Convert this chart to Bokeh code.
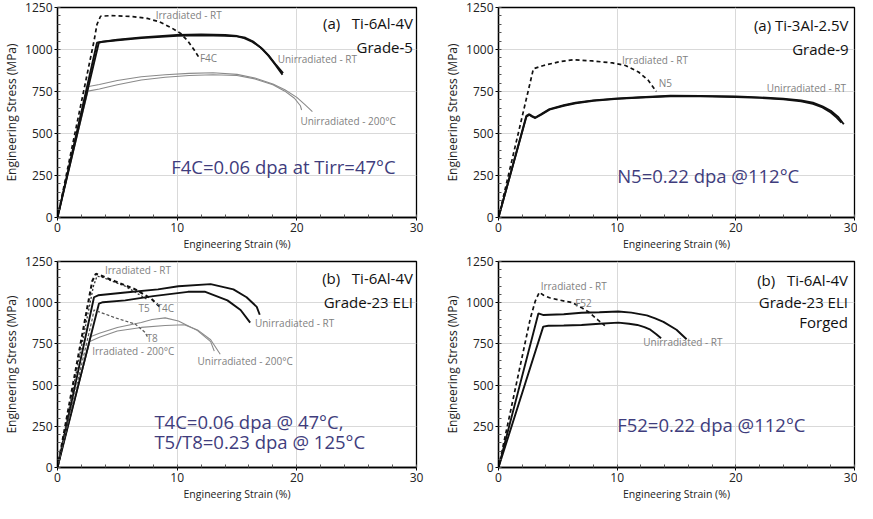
from bokeh.plotting import figure
from bokeh.layouts import column, row
from bokeh.models import Range1d, FixedTicker
from bokeh.core.properties import value
from bokeh.embed import file_html
from bokeh.resources import INLINE

# ---------------- data ----------------
X_TICKS = [0, 10, 20, 30]
Y_TICKS = [0, 250, 500, 750, 1000, 1250]
X_LABEL = "Engineering Strain (%)"
Y_LABEL = "Engineering Stress (MPa)"

# Panel 1: Ti-6Al-4V Grade-5
p1_unirr_rt_a_x = [0, 3.3, 3.6, 5, 7, 10, 12, 14, 15, 15.6, 16.3, 17.0, 17.6, 18.2, 18.8]
p1_unirr_rt_a_y = [0, 1040, 1045, 1055, 1068, 1082, 1085, 1082, 1078, 1068, 1045, 1010, 965, 910, 850]
p1_unirr_rt_b_x = [0, 3.45, 3.8, 5, 7, 10, 12, 14, 15, 15.7, 16.4, 17.1, 17.7, 18.3, 18.85]
p1_unirr_rt_b_y = [0, 1040, 1047, 1058, 1072, 1086, 1090, 1086, 1080, 1070, 1045, 1005, 960, 905, 860]
p1_irr_rt_x = [0, 3.05, 3.3, 3.6, 4.5, 6.3, 7.5, 8.5, 9.5, 10.3, 10.9, 11.4, 11.8]
p1_irr_rt_y = [0, 1050, 1150, 1198, 1202, 1196, 1185, 1165, 1130, 1095, 1050, 1000, 955]
p1_unirr_200_a_x = [0, 2.6, 3.5, 5, 7, 9, 11, 13, 15, 16.5, 18, 19, 20, 20.7, 21.3]
p1_unirr_200_a_y = [0, 780, 792, 815, 838, 850, 858, 862, 852, 830, 795, 760, 715, 670, 630]
p1_unirr_200_b_x = [0, 2.55, 3.5, 5, 7, 9, 11, 13, 15, 16.5, 18, 19, 19.8, 20.3, 20.4]
p1_unirr_200_b_y = [0, 752, 765, 790, 818, 835, 845, 850, 845, 825, 790, 752, 710, 665, 640]

# Panel 2: Ti-3Al-2.5V Grade-9
p2_unirr_rt_a_x = [0, 2.35, 2.6, 2.8, 3.1, 3.6, 4.3, 5.5, 6.5, 8, 10, 12, 14.5, 17, 20, 22, 24, 25.5, 26.5, 27.3, 28, 28.6, 29.1]
p2_unirr_rt_a_y = [0, 605, 615, 605, 595, 615, 645, 668, 683, 697, 708, 716, 725, 724, 720, 715, 707, 697, 683, 662, 635, 600, 555]
p2_unirr_rt_b_x = [0, 2.35, 2.6, 2.8, 3.1, 3.6, 4.3, 5.5, 6.5, 8, 10, 12, 14.5, 17, 20, 22, 24, 25.5, 26.5, 27.3, 28, 28.5, 28.9]
p2_unirr_rt_b_y = [0, 600, 612, 602, 592, 612, 642, 665, 680, 695, 706, 714, 722, 721, 717, 712, 703, 692, 676, 655, 625, 595, 565]
p2_irr_rt_x = [0, 2.94, 3.8, 5.2, 6.3, 7.9, 9.6, 10.7, 11.8, 12.6, 13.3]
p2_irr_rt_y = [0, 885, 905, 928, 939, 932, 920, 905, 866, 818, 750]

# Panel 3: Ti-6Al-4V Grade-23 ELI
p3_t4c_x = [0, 2.9, 3.2, 3.5, 4.84, 6.5, 7.86, 8.7]
p3_t4c_y = [0, 1130, 1175, 1168, 1129, 1081, 1023, 965]
p3_t5_x = [0, 3.0, 3.3, 3.6, 4.6, 5.66, 6.76, 7.44]
p3_t5_y = [0, 1100, 1160, 1158, 1130, 1100, 1052, 1023]
p3_t8_x = [0, 2.9, 3.05, 4.84, 6.5, 7.3, 7.6]
p3_t8_y = [0, 900, 956, 908, 870, 821, 783]
p3_unirr_rt_a_x = [0, 3.05, 3.4, 5.66, 8.4, 10.1, 12.8, 14.7, 15.8, 16.65, 16.9]
p3_unirr_rt_a_y = [0, 1033, 1045, 1062, 1081, 1100, 1113, 1081, 1033, 975, 927]
p3_unirr_rt_b_x = [0, 3.46, 3.8, 5.66, 8, 10.9, 12.3, 14.2, 15.3, 16.1]
p3_unirr_rt_b_y = [0, 994, 1003, 1014, 1040, 1066, 1067, 1014, 956, 879]
p3_unirr_200_a_x = [0, 2.8, 3.5, 5, 7, 7.9, 9.0, 10.1, 11.7, 12.8, 13.1]
p3_unirr_200_a_y = [0, 795, 815, 850, 880, 898, 908, 889, 831, 764, 706]
p3_unirr_200_b_x = [0, 2.7, 3.5, 5, 7, 9, 10.6, 11.7, 12.8, 13.6]
p3_unirr_200_b_y = [0, 765, 790, 828, 850, 862, 866, 835, 775, 687]

# Panel 4: Ti-6Al-4V Grade-23 ELI Forged
p4_irr_rt_x = [0, 2.68, 3.1, 3.44, 3.8, 4.3, 5.2, 6.2, 7.0, 7.6, 8.4, 8.96]
p4_irr_rt_y = [0, 904, 1010, 1063, 1045, 1030, 1015, 1001, 970, 943, 894, 861]
p4_unirr_rt_a_x = [0, 3.36, 3.8, 4.3, 5.5, 7.0, 8.5, 10.1, 11.2, 12.5, 13.2, 13.9, 15.0, 15.85]
p4_unirr_rt_a_y = [0, 935, 925, 927, 930, 939, 942, 947, 940, 923, 905, 884, 836, 778]
p4_unirr_rt_b_x = [0, 3.77, 4.2, 5.5, 7.0, 8.5, 10.1, 11.0, 11.7, 12.3, 12.8, 13.3, 13.7]
p4_unirr_rt_b_y = [0, 855, 860, 862, 865, 872, 879, 872, 865, 852, 836, 808, 784]

# ---------------- styling ----------------
FONT = "Open Sans"
NB = "\u00a0"
GRAY_TXT = "#7f7f7f"
NOTE_CLR = "#3f3d7d"
LBL = "10px"
TTL = "15px"
NOTE = "18.5px"


def make_fig(w, h, left, right, top, bottom):
    p = figure(width=w, height=h, x_range=Range1d(0, 30), y_range=Range1d(0, 1250),
               output_backend="svg", toolbar_location=None,
               min_border_left=left, min_border_right=right,
               min_border_top=top, min_border_bottom=bottom)
    p.xaxis.ticker = FixedTicker(ticks=X_TICKS, minor_ticks=list(range(0, 31, 2)))
    p.yaxis.ticker = FixedTicker(ticks=Y_TICKS, minor_ticks=list(range(0, 1251, 50)))
    p.xaxis.axis_label = X_LABEL
    p.yaxis.axis_label = Y_LABEL
    p.xaxis.axis_label_text_font_size = "10.5px"
    p.yaxis.axis_label_text_font_size = "12px"
    for ax in (p.xaxis, p.yaxis):
        ax.axis_label_text_font = FONT
        ax.axis_label_text_font_style = "normal"
        ax.axis_label_text_color = "#222222"
        ax.major_label_text_font = FONT
        ax.major_label_text_font_size = "12px"
        ax.major_label_text_color = "#222222"
        ax.axis_line_color = "black"
        ax.axis_line_width = 1.3
        ax.major_tick_line_color = "black"
        ax.minor_tick_line_color = "#555555"
        ax.major_tick_in = 0
        ax.major_tick_out = 3
        ax.minor_tick_in = 3
        ax.minor_tick_out = 0
        ax.major_label_standoff = 2
        ax.axis_label_standoff = 2
    p.xgrid.grid_line_color = "#d9d9d9"
    p.ygrid.grid_line_color = "#d9d9d9"
    p.outline_line_color = "black"
    p.outline_line_width = 1.3
    p.outline_line_alpha = 1.0
    p.background_fill_color = "white"
    p.border_fill_color = "white"
    return p


def label(p, x, y, t, size, color, align="left"):
    p.text(x=[x], y=[y], text=[t], text_font=value(FONT), text_font_size=size,
           text_color=color, text_align=align, text_baseline="middle")


def solid(p, xs, ys, w=1.9):
    p.line(xs, ys, line_color="#111111", line_width=w)


def gray(p, xs, ys):
    p.line(xs, ys, line_color="#8a8a8a", line_width=1.1)


# Panel 1
p1 = make_fig(428, 253, 56, 12, 7, 36)
gray(p1, p1_unirr_200_a_x, p1_unirr_200_a_y)
gray(p1, p1_unirr_200_b_x, p1_unirr_200_b_y)
solid(p1, p1_unirr_rt_a_x, p1_unirr_rt_a_y)
solid(p1, p1_unirr_rt_b_x, p1_unirr_rt_b_y)
p1.line(p1_irr_rt_x, p1_irr_rt_y, line_color="#111111", line_width=1.7, line_dash="4 3")
label(p1, 8.2, 1204, "Irradiated - RT", LBL, GRAY_TXT)
label(p1, 11.9, 949, "F4C", LBL, GRAY_TXT)
label(p1, 18.4, 943, "Unirradiated - RT", LBL, GRAY_TXT)
label(p1, 20.3, 573, "Unirradiated - 200°C", LBL, GRAY_TXT)
label(p1, 29.7, 1157, "(a)" + NB * 3 + "Ti-6Al-4V", TTL, "#111111", "right")
label(p1, 29.7, 1013, "Grade-5", TTL, "#111111", "right")
label(p1, 9.5, 301, "F4C=0.06 dpa at Tirr=47°C", NOTE, NOTE_CLR)

# Panel 2
p2 = make_fig(429, 253, 70, 3, 7, 36)
solid(p2, p2_unirr_rt_a_x, p2_unirr_rt_a_y)
solid(p2, p2_unirr_rt_b_x, p2_unirr_rt_b_y)
p2.line(p2_irr_rt_x, p2_irr_rt_y, line_color="#111111", line_width=1.7, line_dash="4 3")
label(p2, 10.4, 939, "Irradiated - RT", LBL, GRAY_TXT)
label(p2, 13.5, 800, "N5", LBL, GRAY_TXT)
label(p2, 22.6, 770, "Unirradiated - RT", LBL, GRAY_TXT)
label(p2, 29.5, 1146, "(a)" + NB + "Ti-3Al-2.5V", TTL, "#111111", "right")
label(p2, 29.5, 1001, "Grade-9", TTL, "#111111", "right")
label(p2, 10.0, 249, "N5=0.22 dpa @112°C", NOTE, NOTE_CLR)

# Panel 3
p3 = make_fig(428, 250, 56, 12, 8, 34)
gray(p3, p3_unirr_200_a_x, p3_unirr_200_a_y)
gray(p3, p3_unirr_200_b_x, p3_unirr_200_b_y)
solid(p3, p3_unirr_rt_a_x, p3_unirr_rt_a_y)
solid(p3, p3_unirr_rt_b_x, p3_unirr_rt_b_y)
p3.line(p3_t8_x, p3_t8_y, line_color="#555555", line_width=1.2, line_dash="3 2")
p3.line(p3_t5_x, p3_t5_y, line_color="#333333", line_width=1.3, line_dash="2 2")
p3.line(p3_t4c_x, p3_t4c_y, line_color="#111111", line_width=2.1, line_dash="4 3")
label(p3, 3.96, 1196, "Irradiated - RT", LBL, GRAY_TXT)
label(p3, 6.76, 965, "T5", LBL, GRAY_TXT)
label(p3, 8.27, 965, "T4C", LBL, GRAY_TXT)
label(p3, 16.5, 879, "Unirradiated - RT", LBL, GRAY_TXT)
label(p3, 7.44, 783, "T8", LBL, GRAY_TXT)
label(p3, 2.9, 706, "Irradiated - 200°C", LBL, GRAY_TXT)
label(p3, 11.7, 649, "Unirradiated - 200°C", LBL, GRAY_TXT)
label(p3, 29.7, 1148, "(b)" + NB * 3 + "Ti-6Al-4V", TTL, "#111111", "right")
label(p3, 29.7, 1004, "Grade-23 ELI", TTL, "#111111", "right")
label(p3, 8.1, 278, "T4C=0.06 dpa @ 47°C,", NOTE, NOTE_CLR)
label(p3, 8.1, 159, "T5/T8=0.23 dpa @ 125°C", NOTE, NOTE_CLR)

# Panel 4
p4 = make_fig(429, 250, 70, 3, 8, 34)
solid(p4, p4_unirr_rt_a_x, p4_unirr_rt_a_y)
solid(p4, p4_unirr_rt_b_x, p4_unirr_rt_b_y)
p4.line(p4_irr_rt_x, p4_irr_rt_y, line_color="#111111", line_width=1.7, line_dash="4 3")
label(p4, 3.55, 1104, "Irradiated - RT", LBL, GRAY_TXT)
label(p4, 6.46, 1001, "F52", LBL, GRAY_TXT)
label(p4, 12.2, 764, "Unirradiated - RT", LBL, GRAY_TXT)
label(p4, 29.45, 1137, "(b)" + NB * 3 + "Ti-6Al-4V", TTL, "#111111", "right")
label(p4, 29.45, 1005, "Grade-23 ELI", TTL, "#111111", "right")
label(p4, 29.45, 884, "Forged", TTL, "#111111", "right")
label(p4, 10.0, 262, "F52=0.22 dpa @112°C", NOTE, NOTE_CLR)

layout = column(row(p1, p2), row(p3, p4))
open("out.html", "w").write(file_html(layout, INLINE))
